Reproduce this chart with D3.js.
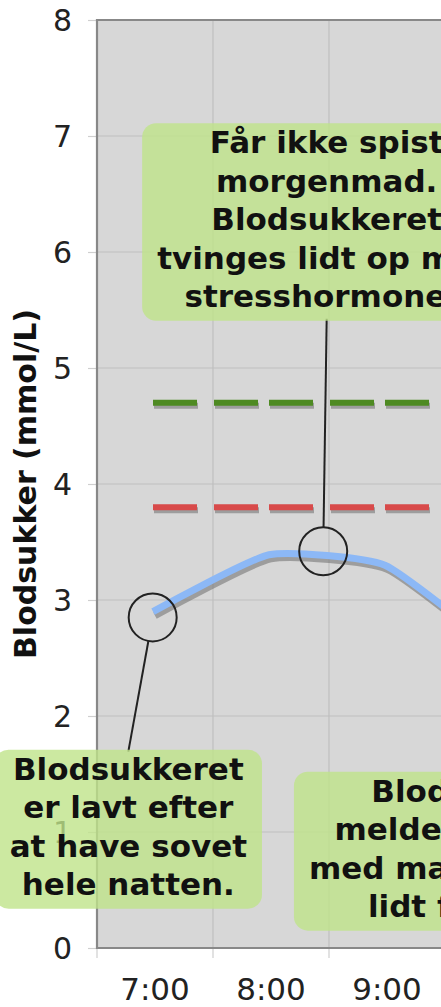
<!DOCTYPE html>
<html><head><meta charset="utf-8">
<script src="https://cdn.jsdelivr.net/npm/d3@7"></script>
<style>html,body{margin:0;padding:0;background:#fff;overflow:hidden}</style>
</head><body><svg id="c" width="441" height="1007"></svg>
<script>
// ---- data ----
const categories = ["7:00", "8:00", "9:00", "10:00", "11:00"];
const glucoseTimes = ["7:00", "8:00", "9:00", "10:00"];
const glucoseValues = [2.9, 3.39, 3.30, 2.55];
const refTimes = ["7:00", "8:00", "9:00", "10:00", "11:00"];
const upperRefValues = [4.7, 4.7, 4.7, 4.7, 4.7];
const lowerRefValues = [3.8, 3.8, 3.8, 3.8, 3.8];
const yTickValues = [0, 1, 2, 3, 4, 5, 6, 7, 8];
const yTitle = "Blodsukker (mmol/L)";
const note1Lines = ["Får ikke spist", "morgenmad.", "Blodsukkeret", "tvinges lidt op med", "stresshormoner."];
const note2Lines = ["Blodsukkeret", "er lavt efter", "at have sovet", "hele natten."];
const note3Lines = ["Blodsukkeret", "melder sig stadig", "med manglende lyst", "lidt forsinket."];

// ---- layout ----
const W = 441, H = 1007;
const plotLeft = 97, band = 116, plotTop = 20, plotBottom = 948;
const svg = d3.select("#c");
const x = d3.scaleBand().domain(categories).range([plotLeft, plotLeft + band * categories.length]).padding(0);
const xc = c => x(c) + x.bandwidth() / 2;
const xf = (c, f) => x(c) + x.bandwidth() * f;
const y = d3.scaleLinear().domain([0, 8]).range([plotBottom, plotTop]);
const plotRight = plotLeft + band * categories.length;

svg.append("rect").attr("width", W).attr("height", H).attr("fill", "#fff");
svg.append("rect").attr("x", plotLeft).attr("y", plotTop)
  .attr("width", plotRight - plotLeft).attr("height", plotBottom - plotTop).attr("fill", "#d7d7d7");

// horizontal grid
svg.append("g").selectAll("line").data(yTickValues.filter(v => v > 0 && v < 8)).join("line")
  .attr("x1", plotLeft).attr("x2", plotRight).attr("y1", d => y(d)).attr("y2", d => y(d))
  .attr("stroke", "#bfbfbf").attr("stroke-width", 1.2);
// vertical grid at category boundaries
const bounds = categories.slice(1);
svg.append("g").selectAll("line").data(bounds).join("line")
  .attr("x1", d => x(d)).attr("x2", d => x(d)).attr("y1", plotTop).attr("y2", plotBottom)
  .attr("stroke", "#bfbfbf").attr("stroke-width", 1.2);
// x tick marks at boundaries
svg.append("g").selectAll("line").data(categories).join("line")
  .attr("x1", d => x(d)).attr("x2", d => x(d)).attr("y1", plotBottom).attr("y2", plotBottom + 10)
  .attr("stroke", "#cfcfcf").attr("stroke-width", 1.2);

// y axis
const yAxis = svg.append("g").attr("transform", `translate(${plotLeft},0)`)
  .call(d3.axisLeft(y).tickValues(yTickValues).tickSize(9).tickPadding(16).tickFormat(d3.format("d")));
yAxis.select(".domain").remove();
yAxis.selectAll("line").attr("stroke", "#cfcfcf").attr("stroke-width", 1.2);
yAxis.selectAll("text").attr("font-family", "DejaVu Sans").attr("font-size", 30).attr("fill", "#222")
  .attr("dy", "0.36em");

// x axis labels
const xAxis = svg.append("g").attr("transform", `translate(0,${plotBottom})`)
  .call(d3.axisBottom(x).tickSize(0).tickPadding(30));
xAxis.select(".domain").remove();
xAxis.selectAll("text").attr("font-family", "DejaVu Sans").attr("font-size", 31).attr("fill", "#222");

// plot border
svg.append("path")
  .attr("d", `M${plotRight},${plotTop}H${plotLeft}V${plotBottom}H${plotRight}`)
  .attr("fill", "none").attr("stroke", "#888").attr("stroke-width", 2.2);

// y title
svg.append("text").attr("transform", `translate(25,${(plotTop + plotBottom) / 2}) rotate(-90)`)
  .attr("text-anchor", "middle").attr("dy", "0.36em")
  .attr("font-family", "DejaVu Sans").attr("font-weight", "bold").attr("font-size", 30).attr("fill", "#111")
  .text(yTitle);

// reference dashed lines (dash pattern restarts at each point, like the source)
function refLine(values, color) {
  const segs = d3.pairs(refTimes.map((t, i) => [xc(t) - 2, y(values[i])]));
  const g = svg.append("g");
  g.selectAll("line.s").data(segs).join("line").attr("class", "s")
    .attr("x1", d => d[0][0] + 1).attr("x2", d => d[1][0] + 1)
    .attr("y1", d => d[0][1] + 3).attr("y2", d => d[1][1] + 3)
    .attr("stroke", "#8a8a8a").attr("stroke-opacity", 0.75).attr("stroke-width", 6).attr("stroke-dasharray", "44,17");
  g.selectAll("line.m").data(segs).join("line").attr("class", "m")
    .attr("x1", d => d[0][0]).attr("x2", d => d[1][0])
    .attr("y1", d => d[0][1]).attr("y2", d => d[1][1])
    .attr("stroke", color).attr("stroke-width", 6).attr("stroke-dasharray", "44,17");
}
refLine(upperRefValues, "#4e8a22");
refLine(lowerRefValues, "#d84a4a");

// glucose line
const gl = glucoseTimes.map((t, i) => [xc(t) - 2, y(glucoseValues[i])]);
const lineGen = d3.line().curve(d3.curveCardinal.tension(0.5));
svg.append("path").attr("d", lineGen(gl.map(p => [p[0] + 2, p[1] + 4])))
  .attr("fill", "none").attr("stroke", "#777").attr("stroke-opacity", 0.6).attr("stroke-width", 7);
svg.append("path").attr("d", lineGen(gl))
  .attr("fill", "none").attr("stroke", "#8cb8f6").attr("stroke-width", 7);

// callouts
const notes = [
  { lines: note1Lines, cx: xf("8:00", 0.98), top: y(7.11), circle: [xf("8:00", 0.95), y(3.42)], side: "bottom" },
  { lines: note2Lines, cx: xf("7:00", 0.27), top: y(1.71), circle: [xf("7:00", 0.48), y(2.85)], side: "top" },
  { lines: note3Lines, cx: xf("9:00", 1.36), top: y(1.52), circle: null }
];
const fs = 31, lh = 38.5, r = 24, pad = 15;
notes.forEach(n => { n.h = n.lines.length * lh + 5; });
// circles and leaders
notes.filter(n => n.circle).forEach(n => {
  const [cx, cy] = n.circle;
  const tx = n.cx, ty = n.side === "bottom" ? n.top + n.h - 2 : n.top + 2;
  const dx = tx - cx, dy = ty - cy, d = Math.hypot(dx, dy);
  svg.append("line").attr("x1", cx + dx / d * r).attr("y1", cy + dy / d * r).attr("x2", tx).attr("y2", ty)
    .attr("stroke", "#222").attr("stroke-width", 2);
  svg.append("circle").attr("cx", cx).attr("cy", cy).attr("r", r)
    .attr("fill", "none").attr("stroke", "#222").attr("stroke-width", 2);
});
const measure = svg.append("text").attr("font-family", "DejaVu Sans").attr("font-weight", "bold").attr("font-size", fs);
notes.forEach(n => {
  const maxW = d3.max(n.lines, l => { measure.text(l); return measure.node().getComputedTextLength(); });
  const bwid = maxW + 2 * pad;
  svg.append("rect").attr("x", n.cx - bwid / 2).attr("y", n.top).attr("width", bwid).attr("height", n.h)
    .attr("rx", 14).attr("fill", "#bfe38a").attr("fill-opacity", 0.8);
  svg.append("text").attr("font-family", "DejaVu Sans").attr("font-weight", "bold").attr("font-size", fs)
    .attr("fill", "#111").attr("text-anchor", "middle")
    .selectAll("tspan").data(n.lines).join("tspan")
    .attr("x", n.cx).attr("y", (d, i) => n.top + 30 + i * lh).text(d => d);
});
measure.remove();
</script></body></html>
